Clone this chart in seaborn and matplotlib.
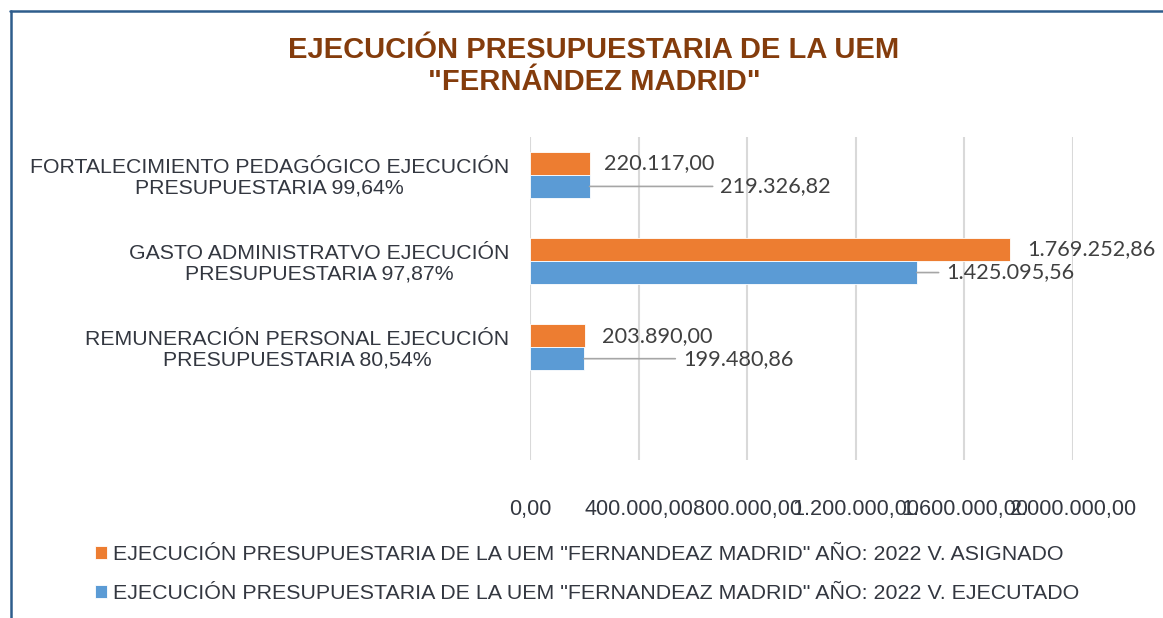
import matplotlib
matplotlib.use("Agg")
import matplotlib.pyplot as plt
import seaborn as sns
import pandas as pd
from matplotlib.lines import Line2D

categories = [
    "FORTALECIMIENTO PEDAGÓGICO EJECUCIÓN\nPRESUPUESTARIA 99,64%",
    "GASTO ADMINISTRATVO EJECUCIÓN\nPRESUPUESTARIA 97,87%",
    "REMUNERACIÓN PERSONAL EJECUCIÓN\nPRESUPUESTARIA 80,54%",
]
series_names = [
    'EJECUCIÓN PRESUPUESTARIA DE LA UEM "FERNANDEAZ MADRID" AÑO: 2022 V. ASIGNADO',
    'EJECUCIÓN PRESUPUESTARIA DE LA UEM "FERNANDEAZ MADRID" AÑO: 2022 V. EJECUTADO',
]
asignado = [220117.00, 1769252.86, 203890.00]
ejecutado = [219326.82, 1425095.56, 199480.86]
x_ticks = [0, 400000, 800000, 1200000, 1600000, 2000000]
title = 'EJECUCIÓN PRESUPUESTARIA DE LA UEM\n"FERNÁNDEZ MADRID"'

colors = ["#ED7D31", "#5B9BD5"]

sns.set_style("white")
plt.rcParams["font.family"] = ["Liberation Sans", "DejaVu Sans"]

df = pd.DataFrame({
    "cat": categories * 2,
    "serie": [series_names[0]] * 3 + [series_names[1]] * 3,
    "valor": asignado + ejecutado,
})

fig = plt.figure(figsize=(11.63, 6.18), dpi=100)
ax = fig.add_axes([530 / 1163, 1 - 460 / 618, (1073 - 530) / 1163, (460 - 137) / 618])

sns.barplot(data=df, y="cat", x="valor", hue="serie", hue_order=series_names,
            order=categories, palette=colors, orient="h", width=0.535,
            saturation=1, ax=ax, edgecolor="white", linewidth=0.6)

ax.set_xlim(0, 2000000)
ax.set_ylim(3.31, -0.44)
ax.set_xticks(x_ticks)


def fmt(v):
    s = f"{v:,.2f}"
    return s.replace(",", "X").replace(".", ",").replace("X", ".")


ax.set_xticklabels([fmt(v) for v in x_ticks], fontsize=15.6, color="#333740")
ax.tick_params(axis="x", length=0, pad=28)
ax.tick_params(axis="y", length=0, pad=15)
for lab in ax.get_yticklabels():
    lab.set_fontsize(15.3)
    lab.set_color("#333740")
    lab.set_multialignment("center")
    lab.set_linespacing(1.1)
ax.set_xlabel("")
ax.set_ylabel("")
for s in ax.spines.values():
    s.set_visible(False)
ax.xaxis.grid(True, color="#D9D9D9", linewidth=1.5)
ax.set_axisbelow(True)

# data labels
off_orange = [10, 12, 12]
off_blue = [94, 21, 71]
bw = 0.535 / 2
for i in range(3):
    ax.annotate(fmt(asignado[i]), xy=(asignado[i], i - bw / 2), xytext=(off_orange[i], 0),
                textcoords="offset points", va="center", ha="left", fontsize=15.6,
                family=["Lato", "DejaVu Sans"], color="#404040")
    ax.annotate(fmt(ejecutado[i]), xy=(ejecutado[i], i + bw / 2), xytext=(off_blue[i], 0),
                textcoords="offset points", va="center", ha="left", fontsize=15.6,
                family=["Lato", "DejaVu Sans"], color="#404040",
                arrowprops=dict(arrowstyle="-", color="#A6A6A6", lw=1.2, shrinkA=3, shrinkB=0))

handles, labels = ax.get_legend_handles_labels()
ax.get_legend().remove()
fig.legend(handles, labels, loc="center left", bbox_to_anchor=(76 / 1163, 1 - 574 / 618),
           frameon=False, handlelength=0.55, handleheight=0.55, handletextpad=0.3,
           labelspacing=0.95, prop={"size": 15.4}, labelcolor="#333740")

fig.text(594 / 1163, 1 - 66 / 618, title, ha="center", va="center", fontsize=21,
         fontweight="bold", color="#843C0C", linespacing=1.18)

fig.add_artist(Line2D([10.5 / 1163, 10.5 / 1163], [0, 1 - 11 / 618], transform=fig.transFigure,
                      color="#2E5D8C", lw=1.8))
fig.add_artist(Line2D([9.5 / 1163, 1], [1 - 11 / 618, 1 - 11 / 618], transform=fig.transFigure,
                      color="#2E5D8C", lw=1.8))

fig.savefig("out.png", dpi=100)
